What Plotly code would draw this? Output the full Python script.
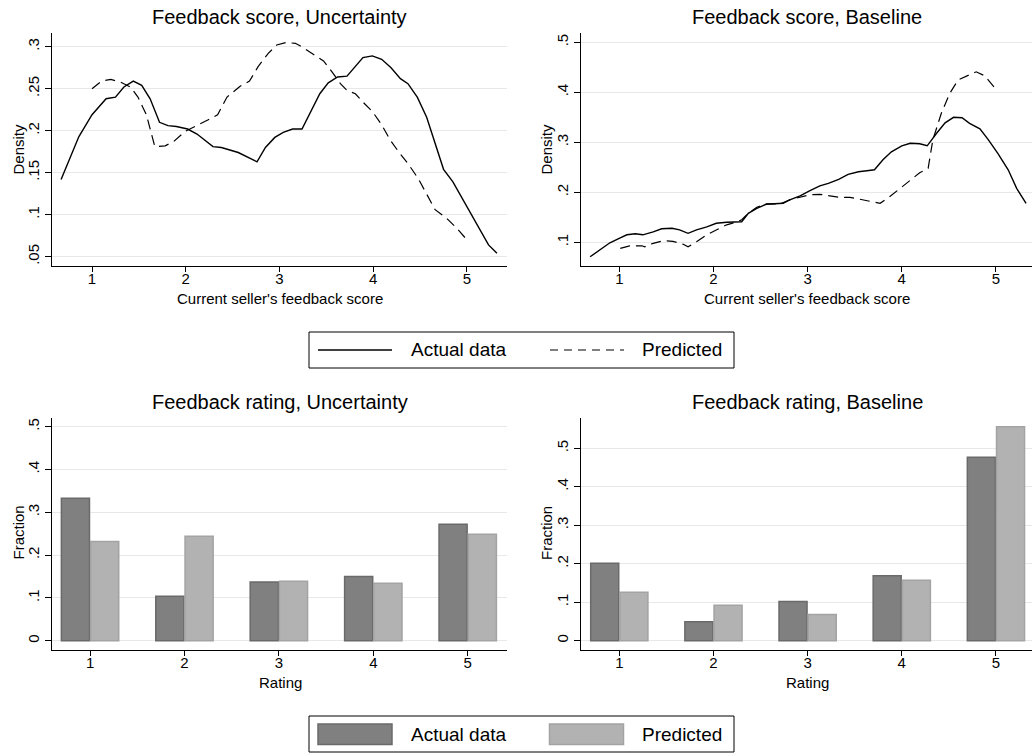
import plotly.graph_objects as go

# ---------------- data ----------------
# Feedback score density, Uncertainty treatment
unc_actual_x = [0.67, 0.86, 1.00, 1.15, 1.25, 1.34, 1.44, 1.53, 1.62, 1.72, 1.81, 1.90, 2.02, 2.12,
                2.29, 2.38, 2.56, 2.76, 2.85, 2.95, 3.04, 3.14, 3.24, 3.43, 3.52, 3.62, 3.72, 3.81,
                3.89, 3.99, 4.09, 4.19, 4.29, 4.37, 4.47, 4.57, 4.66, 4.75, 4.85, 4.94, 5.03, 5.13,
                5.23, 5.32]
unc_actual_y = [0.142, 0.193, 0.219, 0.238, 0.240, 0.252, 0.259, 0.254, 0.238, 0.210, 0.206, 0.205,
                0.202, 0.196, 0.181, 0.180, 0.174, 0.163, 0.180, 0.192, 0.198, 0.202, 0.202, 0.244,
                0.257, 0.264, 0.265, 0.276, 0.287, 0.289, 0.285, 0.275, 0.262, 0.256, 0.240, 0.216,
                0.186, 0.154, 0.139, 0.121, 0.103, 0.083, 0.064, 0.054]
unc_pred_x = [1.00, 1.10, 1.20, 1.30, 1.41, 1.49, 1.58, 1.67, 1.78, 1.87, 1.99, 2.12, 2.24, 2.34,
              2.44, 2.58, 2.68, 2.77, 2.88, 2.97, 3.07, 3.17, 3.25, 3.36, 3.47, 3.56, 3.65, 3.72,
              3.81, 3.89, 3.99, 4.09, 4.18, 4.27, 4.37, 4.48, 4.57, 4.66, 4.78, 4.89, 5.00]
unc_pred_y = [0.250, 0.259, 0.261, 0.258, 0.252, 0.240, 0.219, 0.181, 0.182, 0.187, 0.199, 0.206,
              0.213, 0.219, 0.240, 0.253, 0.259, 0.276, 0.292, 0.302, 0.305, 0.304, 0.299, 0.291,
              0.283, 0.270, 0.256, 0.248, 0.244, 0.234, 0.223, 0.207, 0.189, 0.175, 0.161, 0.143,
              0.125, 0.106, 0.096, 0.084, 0.070]

# Feedback score density, Baseline treatment
base_actual_x = [0.69, 0.80, 0.90, 1.01, 1.08, 1.17, 1.25, 1.36, 1.45, 1.56, 1.64, 1.73, 1.82, 1.93,
                 2.03, 2.14, 2.21, 2.30, 2.37, 2.46, 2.56, 2.64, 2.74, 2.81, 2.92, 3.02, 3.13, 3.22,
                 3.33, 3.43, 3.54, 3.63, 3.71, 3.80, 3.89, 4.00, 4.09, 4.19, 4.27, 4.37, 4.46, 4.55,
                 4.64, 4.72, 4.83, 4.92, 5.02, 5.13, 5.22, 5.32]
base_actual_y = [0.071, 0.085, 0.099, 0.109, 0.115, 0.117, 0.115, 0.121, 0.127, 0.128, 0.125, 0.118,
                 0.125, 0.131, 0.138, 0.140, 0.140, 0.141, 0.158, 0.168, 0.176, 0.177, 0.178, 0.185,
                 0.193, 0.203, 0.213, 0.218, 0.226, 0.236, 0.241, 0.243, 0.245, 0.265, 0.281, 0.293,
                 0.298, 0.297, 0.293, 0.318, 0.339, 0.350, 0.349, 0.338, 0.327, 0.305, 0.278, 0.245,
                 0.208, 0.178]
base_pred_x = [1.01, 1.11, 1.24, 1.27, 1.36, 1.47, 1.57, 1.68, 1.73, 1.82, 1.93, 2.03, 2.14, 2.25,
               2.30, 2.37, 2.46, 2.56, 2.71, 2.81, 2.92, 3.02, 3.13, 3.24, 3.34, 3.45, 3.56, 3.66,
               3.77, 3.87, 3.98, 4.09, 4.19, 4.28, 4.33, 4.42, 4.51, 4.60, 4.69, 4.79, 4.88, 5.00]
base_pred_y = [0.088, 0.093, 0.093, 0.091, 0.098, 0.103, 0.102, 0.096, 0.091, 0.101, 0.115, 0.125,
               0.135, 0.141, 0.145, 0.158, 0.170, 0.177, 0.177, 0.185, 0.191, 0.195, 0.196, 0.193,
               0.190, 0.190, 0.186, 0.183, 0.178, 0.191, 0.208, 0.225, 0.239, 0.248, 0.305, 0.358,
               0.398, 0.425, 0.433, 0.441, 0.433, 0.406]

# Feedback rating fractions
ratings = [1, 2, 3, 4, 5]
unc_rating_actual = [0.333, 0.104, 0.137, 0.150, 0.272]
unc_rating_pred = [0.232, 0.244, 0.139, 0.134, 0.249]
base_rating_actual = [0.201, 0.049, 0.102, 0.169, 0.477]
base_rating_pred = [0.126, 0.092, 0.068, 0.157, 0.556]

# tick labels
x_ticks = [1, 2, 3, 4, 5]
x_ticklabels = ["1", "2", "3", "4", "5"]
tl_yticks = [0.05, 0.10, 0.15, 0.20, 0.25, 0.30]
tl_yticklabels = [".05", ".1", ".15", ".2", ".25", ".3"]
tr_yticks = [0.1, 0.2, 0.3, 0.4, 0.5]
tr_yticklabels = [".1", ".2", ".3", ".4", ".5"]
bar_yticks = [0, 0.1, 0.2, 0.3, 0.4, 0.5]
bar_yticklabels = ["0", ".1", ".2", ".3", ".4", ".5"]

panel_titles = ["Feedback score, Uncertainty", "Feedback score, Baseline",
                "Feedback rating, Uncertainty", "Feedback rating, Baseline"]
series_names = ["Actual data", "Predicted"]

# ---------------- styling ----------------
W, H = 1032, 755
FONT = "Liberation Sans, Arial, Helvetica, sans-serif"
DARK_FILL, DARK_EDGE = "#808080", "#6a6a6a"
LIGHT_FILL, LIGHT_EDGE = "#b2b2b2", "#a3a3a3"
GRID = "#e8e8e8"
DASH = "10px,6px"


def px_x(p):
    return p / W


def px_y(p):
    return 1 - p / H


fig = go.Figure()

# line panels
fig.add_trace(go.Scatter(x=unc_actual_x, y=unc_actual_y, mode="lines", name=series_names[0],
                         line=dict(color="black", width=1.4), xaxis="x", yaxis="y", showlegend=False))
fig.add_trace(go.Scatter(x=unc_pred_x, y=unc_pred_y, mode="lines", name=series_names[1],
                         line=dict(color="black", width=1.2, dash=DASH), xaxis="x", yaxis="y",
                         showlegend=False))
fig.add_trace(go.Scatter(x=base_actual_x, y=base_actual_y, mode="lines", name=series_names[0],
                         line=dict(color="black", width=1.4), xaxis="x2", yaxis="y2", showlegend=False))
fig.add_trace(go.Scatter(x=base_pred_x, y=base_pred_y, mode="lines", name=series_names[1],
                         line=dict(color="black", width=1.2, dash=DASH), xaxis="x2", yaxis="y2",
                         showlegend=False))

# bar panels
for xa, ya, act, pred in [("x3", "y3", unc_rating_actual, unc_rating_pred),
                          ("x4", "y4", base_rating_actual, base_rating_pred)]:
    fig.add_trace(go.Bar(x=ratings, y=act, name=series_names[0], xaxis=xa, yaxis=ya,
                         marker=dict(color=DARK_FILL, line=dict(color=DARK_EDGE, width=1.5)),
                         showlegend=False))
    fig.add_trace(go.Bar(x=ratings, y=pred, name=series_names[1], xaxis=xa, yaxis=ya,
                         marker=dict(color=LIGHT_FILL, line=dict(color=LIGHT_EDGE, width=1.5)),
                         showlegend=False))

common_x = dict(showline=True, linecolor="black", linewidth=1, ticks="outside", ticklen=5,
                tickcolor="black", tickwidth=1, showgrid=False, zeroline=False,
                ticklabelstandoff=-6,
                tickvals=x_ticks, ticktext=x_ticklabels, tickfont=dict(size=15, color="black"))
common_y = dict(showline=True, linecolor="black", linewidth=1, ticks="outside", ticklen=6,
                tickcolor="black", tickwidth=1, showgrid=True, gridcolor=GRID, gridwidth=1,
                zeroline=False, tickangle=-90, tickfont=dict(size=15, color="black"))

# domains in pixels
LX = [52, 507]
RX = [580.7, 1032]
TY = [33, 266]
BY = [417.7, 650]

fig.update_layout(
    width=W, height=H,
    margin=dict(l=0, r=0, t=0, b=0),
    paper_bgcolor="white", plot_bgcolor="white",
    font=dict(family=FONT, color="black"),
    barmode="group", bargap=0.38, bargroupgap=0.04,
    showlegend=False,
    xaxis=dict(common_x, domain=[px_x(LX[0]), px_x(LX[1])], range=[0.573, 5.427], anchor="y"),
    yaxis=dict(common_y, domain=[px_y(TY[1]), px_y(TY[0])], range=[0.0389, 0.3163], anchor="x",
               tickvals=tl_yticks, ticktext=tl_yticklabels),
    xaxis2=dict(common_x, domain=[px_x(RX[0]), px_x(RX[1])], range=[0.590, 5.383], anchor="y2"),
    yaxis2=dict(common_y, domain=[px_y(TY[1]), px_y(TY[0])], range=[0.0526, 0.5186], anchor="x2",
                tickvals=tr_yticks, ticktext=tr_yticklabels),
    xaxis3=dict(common_x, domain=[px_x(LX[0]), px_x(LX[1])], range=[0.597, 5.416], anchor="y3"),
    yaxis3=dict(common_y, domain=[px_y(BY[1]), px_y(BY[0])], range=[-0.0217, 0.521], anchor="x3",
                tickvals=bar_yticks, ticktext=bar_yticklabels),
    xaxis4=dict(common_x, domain=[px_x(RX[0]), px_x(RX[1])], range=[0.590, 5.383], anchor="y4"),
    yaxis4=dict(common_y, domain=[px_y(BY[1]), px_y(BY[0])], range=[-0.0242, 0.5795], anchor="x4",
                tickvals=bar_yticks, ticktext=bar_yticklabels),
)

annotations = []
# panel titles
for title, cx, cy in [(panel_titles[0], sum(LX) / 2, 17), (panel_titles[1], sum(RX) / 2 + 1, 17),
                      (panel_titles[2], sum(LX) / 2, 401.5), (panel_titles[3], sum(RX) / 2 + 1, 401.5)]:
    annotations.append(dict(text=title, x=px_x(cx), y=px_y(cy), xref="paper", yref="paper",
                            xanchor="center", yanchor="middle", showarrow=False,
                            font=dict(size=20, color="black")))
# x axis titles
for text, cx, cy in [("Current seller's feedback score", sum(LX) / 2, 298.5),
                     ("Current seller's feedback score", 807, 298.5),
                     ("Rating", sum(LX) / 2 + 0.5, 682), ("Rating", 807, 682)]:
    annotations.append(dict(text=text, x=px_x(cx), y=px_y(cy), xref="paper", yref="paper",
                            xanchor="center", yanchor="middle", showarrow=False,
                            font=dict(size=15, color="black")))
# y axis titles
for text, cx, cy in [("Density", 18, 149.5), ("Density", 546, 149.5),
                     ("Fraction", 17.5, 533), ("Fraction", 546, 533)]:
    annotations.append(dict(text=text, x=px_x(cx), y=px_y(cy), xref="paper", yref="paper",
                            xanchor="center", yanchor="middle", showarrow=False, textangle=-90,
                            font=dict(size=15, color="black")))

# legends (drawn manually to match the wide key samples)
shapes = []
for top, bottom in [(332, 368), (716, 752)]:
    shapes.append(dict(type="rect", xref="paper", yref="paper", x0=px_x(309), x1=px_x(734),
                       y0=px_y(bottom), y1=px_y(top), line=dict(color="black", width=1),
                       fillcolor="white", layer="above"))
# line legend samples
shapes.append(dict(type="line", xref="paper", yref="paper", x0=px_x(318), x1=px_x(392),
                   y0=px_y(350), y1=px_y(350), line=dict(color="black", width=1.4)))
shapes.append(dict(type="line", xref="paper", yref="paper", x0=px_x(550), x1=px_x(624),
                   y0=px_y(350), y1=px_y(350), line=dict(color="black", width=1.2, dash="8px,6px")))
# bar legend samples
shapes.append(dict(type="rect", xref="paper", yref="paper", x0=px_x(318), x1=px_x(392),
                   y0=px_y(744.5), y1=px_y(724), fillcolor=DARK_FILL,
                   line=dict(color=DARK_EDGE, width=1.5)))
shapes.append(dict(type="rect", xref="paper", yref="paper", x0=px_x(549.5), x1=px_x(623.5),
                   y0=px_y(744.5), y1=px_y(724), fillcolor=LIGHT_FILL,
                   line=dict(color=LIGHT_EDGE, width=1.5)))
for cy in [350, 734]:
    annotations.append(dict(text=series_names[0], x=px_x(409), y=px_y(cy), xref="paper",
                            yref="paper", xanchor="left", yanchor="middle", showarrow=False,
                            font=dict(size=19, color="black")))
    annotations.append(dict(text=series_names[1], x=px_x(640), y=px_y(cy), xref="paper",
                            yref="paper", xanchor="left", yanchor="middle", showarrow=False,
                            font=dict(size=19, color="black")))

fig.update_layout(annotations=annotations, shapes=shapes)
fig.write_html("out.html")
